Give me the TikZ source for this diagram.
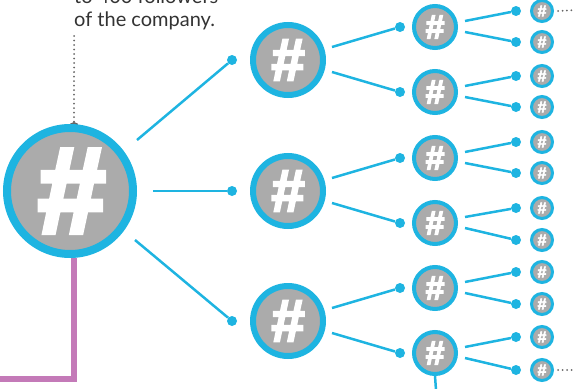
\documentclass[tikz,border=0pt]{standalone}
\usepackage{fontspec}
\setmainfont{Lato}
\newfontfamily\hashfont{Liberation Sans}[BoldFeatures={FakeBold=3.5},BoldItalicFeatures={FakeBold=4}]
\usetikzlibrary{calc}
\definecolor{hashblue}{HTML}{1EB4E1}
\definecolor{hashgray}{HTML}{ABABAB}
\definecolor{pingray}{HTML}{676767}
\definecolor{txtgray}{HTML}{333333}
\definecolor{purp}{HTML}{C47AB8}
\begin{document}
\begin{tikzpicture}[x=1pt,y=-1pt,
  hub/.style={circle, draw=hashblue, fill=hashgray, inner sep=0pt, text=white},
  lvA/.style={hub, line width=8pt, minimum size=126pt, font=\hashfont\bfseries\itshape\fontsize{122}{122}\selectfont},
  lvB/.style={hub, line width=6pt, minimum size=70pt, font=\hashfont\bfseries\fontsize{60}{60}\selectfont},
  lvC/.style={hub, line width=4pt, minimum size=42pt, font=\hashfont\bfseries\fontsize{34}{34}\selectfont},
  lvD/.style={hub, line width=3pt, minimum size=21pt, font=\hashfont\bfseries\fontsize{16}{16}\selectfont},
  link/.style={draw=hashblue, line width=2.5pt},
  enddot/.style={circle, fill=hashblue, inner sep=0pt, minimum size=10pt},
  pindot/.style={circle, fill=pingray, inner sep=0pt, minimum size=10pt},
  dots/.style={draw=pingray, line width=2pt, line cap=round, dash pattern=on 0pt off 4.5pt},
  caption/.style={font=\fontsize{20}{23}\selectfont, text=txtgray, align=left, inner sep=0pt}
]
\useasboundingbox (0,0) rectangle (575,388);

% caption and pin
\node[caption, anchor=base west] (cap) at (74,27) {to 400 followers\\of the company.};
\node[pindot] (pin) at (74,127) {};
\coordinate (pintop) at (74,36);
\draw[dots] (pintop) -- (pin);

% root
\node[lvA] (root) at (70,191) {\#};
\coordinate (pcorner) at (74,379);
\coordinate (pend) at (0,379);
\draw[purp, line width=6.5pt] ($(root.south)+(4,0)$) -- (pcorner) -- (pend);

% level 1
\foreach \i/\y/\sx/\sy in {1/60/137/140, 2/191/153/191, 3/321/135/240}{
  \node[lvB] (A\i) at (288,\y) {\#};
  \node[enddot] (dA\i) at (232,\y) {};
  \coordinate (sA\i) at (\sx,\sy);
  \draw[link] (sA\i) -- (dA\i);
}

% level 2
\foreach \j/\y/\p/\s in {1/27/1/-13, 2/92/1/12, 3/158/2/-13, 4/223/2/12, 5/288/3/-13, 6/353/3/12}{
  \node[lvC] (B\j) at (435,\y) {\#};
  \node[enddot] (dB\j) at (400,\y) {};
  \coordinate (sB\j) at ($(A\p)+(44,\s)$);
  \draw[link] (sB\j) -- (dB\j);
}

% level 3
\foreach \k/\y/\p/\s in {1/11/1/-6, 2/42/1/5, 3/76/2/-6, 4/107/2/5, 5/142/3/-6, 6/173/3/5,
                         7/208/4/-6, 8/240/4/5, 9/272/5/-6, 10/304/5/5, 11/337/6/-6, 12/370/6/5}{
  \node[lvD] (C\k) at (542,\y) {\#};
  \node[enddot] (dC\k) at (516,\y) {};
  \coordinate (sC\k) at ($(B\p)+(30,\s)$);
  \draw[link] (sC\k) -- (dC\k);
}

% trailing dotted lines
\coordinate (tr1) at (576,10);
\coordinate (tr2) at (576,370);
\draw[dots] ($(C1.east)+(4,0)$) -- (tr1);
\draw[dots] ($(C12.east)+(4,0)$) -- (tr2);

% line going down
\coordinate (down) at (436,390);
\draw[link] (B6.south) -- (down);
\end{tikzpicture}
\end{document}
